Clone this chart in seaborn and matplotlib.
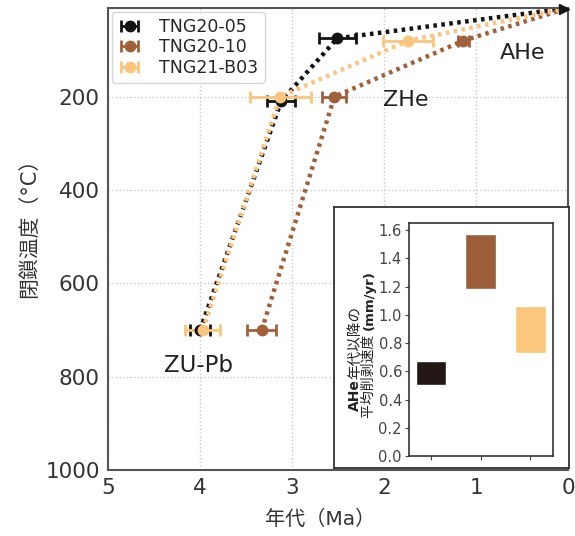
import matplotlib
matplotlib.use("Agg")
import pandas as pd
import matplotlib.pyplot as plt
import seaborn as sns

sns.set_style("whitegrid")
plt.rcParams['font.family'] = ['DejaVu Sans', 'Noto Sans CJK JP']

# --- data ---
samples = ["TNG20-05", "TNG20-10", "TNG21-B03"]
colors = ["#141414", "#a0613a", "#fbc57e"]
systems = ["ZU-Pb", "ZHe", "AHe"]

age_05 = [4.00, 3.12, 2.51]
err_05 = [0.11, 0.15, 0.20]
temp_05 = [700, 210, 75]

age_10 = [3.33, 2.54, 1.14]
err_10 = [0.16, 0.13, 0.06]
temp_10 = [700, 200, 80]

age_b03 = [3.97, 3.13, 1.74]
err_b03 = [0.19, 0.33, 0.27]
temp_b03 = [700, 200, 80]

surface_age = 0.0
surface_temp = 10

# erosion rate ranges since AHe age (mm/yr)
rate_low = [0.50, 1.18, 0.73]
rate_high = [0.67, 1.57, 1.06]
bar_colors = ["#231815", "#9c5e38", "#fbc77c"]

fig = plt.figure(figsize=(5.75, 5.36), dpi=100)
ax = fig.add_axes([0.188, 0.123, 0.80, 0.862])

rows = []
for s, a, t in zip(samples, [age_05, age_10, age_b03], [temp_05, temp_10, temp_b03]):
    for i in range(3):
        rows.append({"sample": s, "age": a[i], "temp": t[i], "order": i})
    rows.append({"sample": s, "age": surface_age, "temp": surface_temp, "order": 3})
df = pd.DataFrame(rows)

for s, c in zip(samples, colors):
    sub = df[df["sample"] == s].sort_values("order")
    sns.lineplot(data=sub, x="age", y="temp", sort=False, color=c, lw=3.2,
                 linestyle=(0, (0.8, 1.0)), ax=ax, legend=False, zorder=2)

for s, c, a, e, t in zip(samples, colors, [age_05, age_10, age_b03],
                         [err_05, err_10, err_b03], [temp_05, temp_10, temp_b03]):
    ax.errorbar(a, t, xerr=e, fmt="o", color=c, ms=7.5, elinewidth=2,
                capsize=4, capthick=2, label=s, zorder=3)

ax.plot([0.04], [12], marker=">", color="#141414", ms=7, clip_on=False, zorder=4)

ax.set_xlim(5, 0)
ax.set_ylim(1000, 10)
ax.set_xticks([5, 4, 3, 2, 1, 0])
ax.set_yticks([200, 400, 600, 800, 1000])
ax.grid(True, linestyle=":", color="#c8c8c8", lw=1)
ax.tick_params(labelsize=15.5, colors="#333333", length=2, pad=4)
for sp in ax.spines.values():
    sp.set_color("#555555")
    sp.set_linewidth(1.5)
ax.set_xlabel("年代（Ma）", fontsize=14.5, color="#333333")
ax.set_ylabel("閉鎖温度（°C）", fontsize=15, color="#333333")
ax.xaxis.set_label_coords(0.461, -0.085)
ax.yaxis.set_label_coords(-0.15, 0.535)

ax.text(0.5, 106, "AHe", fontsize=16, va="center", ha="center", color="#222222")
ax.text(1.77, 208, "ZHe", fontsize=16, va="center", ha="center", color="#222222")
ax.text(4.02, 775, "ZU-Pb", fontsize=16.5, va="center", ha="center", color="#222222")

ax.legend(loc="upper left", fontsize=12.5, frameon=True, handlelength=1.4,
          borderpad=0.35, labelspacing=0.15, handletextpad=1.0, borderaxespad=0.2,
          edgecolor="#cccccc")

# --- inset ---
box = fig.add_axes([0.581, 0.127, 0.408, 0.487])
box.set_xticks([])
box.set_yticks([])
box.set_facecolor("white")
box.grid(False)
for sp in box.spines.values():
    sp.set_color("#333333")
    sp.set_linewidth(1.3)

ins = fig.add_axes([0.711, 0.149, 0.250, 0.435])
xs = [0, 1, 2]
heights = [h - l for h, l in zip(rate_high, rate_low)]
ins.bar(xs, heights, bottom=rate_low, width=0.62, color=bar_colors)
ins.set_xlim(-0.45, 2.45)
ins.set_ylim(0, 1.65)
ins.set_yticks([0.0, 0.2, 0.4, 0.6, 0.8, 1.0, 1.2, 1.4, 1.6])
ins.set_xticks(xs)
ins.set_xticklabels([])
ins.grid(False)
ins.tick_params(labelsize=10.5, colors="#444444", length=3, left=True, bottom=True, pad=2)
for sp in ins.spines.values():
    sp.set_color("#333333")
    sp.set_linewidth(1.2)

# inset y label: two rotated lines, with bold parts
t1 = box.text(355 / 575, 1 - 411 / 536, "AHe", rotation=90, fontsize=10,
              fontweight="bold", ha="center", va="bottom", color="#222222",
              transform=fig.transFigure)
box.annotate("年代以降の", xy=(0.5, 1.0), xycoords=t1, rotation=90, fontsize=10.5,
             ha="center", va="bottom", color="#222222")
t2 = box.text(369 / 575, 1 - 418 / 536, "平均削剥速度 ", rotation=90, fontsize=10,
              ha="center", va="bottom", color="#222222", transform=fig.transFigure)
box.annotate("(mm/yr)", xy=(0.5, 1.0), xycoords=t2, rotation=90, fontsize=9.5,
             fontweight="bold", ha="center", va="bottom", color="#222222")

fig.savefig("out.png", dpi=100)
